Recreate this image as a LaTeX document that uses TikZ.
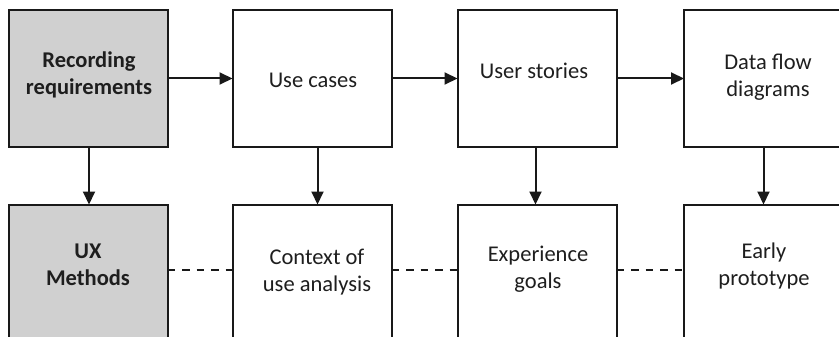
\documentclass[tikz,border=0pt]{standalone}
\usepackage{fontspec}
\setmainfont{Carlito}
\usetikzlibrary{arrows.meta,calc}
\definecolor{boxgray}{RGB}{208,208,208}
\definecolor{ink}{RGB}{25,25,25}
\definecolor{txtc}{RGB}{30,30,30}
\begin{document}
\begin{tikzpicture}[x=1pt,y=-1pt,
  box/.style={draw=ink,line width=2pt,minimum width=159pt,minimum height=136pt,
    inner sep=0pt,outer sep=0pt,anchor=north west},
  graybox/.style={box,fill=boxgray},
  txt/.style={align=center,text=txtc,inner sep=0pt,font=\fontsize{22.5}{27}\selectfont},
  arr/.style={draw=ink,line width=2pt,-{Triangle[length=13pt,width=12pt]}},
  dsh/.style={draw=ink,line width=2pt,dash pattern=on 7.5pt off 7pt}]
\useasboundingbox (0,0) rectangle (839,337);
\fill[white] (0,0) rectangle (839,337);
\begin{scope}
\clip (0,0) rectangle (839,337);
% top row
\node[graybox] (u1) at (8.5,10.5) {};
\node[box] (u2) at (232.5,10.5) {};
\node[box] (u3) at (457.5,10.5) {};
\node[box] (u4) at (684,10.5) {};
% bottom row
\node[graybox] (d1) at (8.5,204.5) {};
\node[box] (d2) at (232.5,204.5) {};
\node[box] (d3) at (457.5,204.5) {};
\node[box] (d4) at (684,204.5) {};
\end{scope}
% texts
\node[txt] (t1) at (89,75) {\textbf{Recording}\\\textbf{requirements}};
\node[txt] (t2) at (313,80) {Use cases};
\node[txt] (t3) at (534,71) {User stories};
\node[txt] (t4) at (768,77) {Data flow\\diagrams};
\node[txt] (b1) at (88,265) {\textbf{UX}\\\textbf{Methods}};
\node[txt] (b2) at (317,272) {Context of\\use analysis};
\node[txt] (b3) at (538,269) {Experience\\goals};
\node[txt] (b4) at (764,266) {Early\\prototype};
% horizontal arrows
\draw[arr] (u1.east) -- (u2.west);
\draw[arr] (u2.east) -- (u3.west);
\draw[arr] (u3.east) -- (u4.west);
% vertical arrows
\draw[arr] ([xshift=1pt]u1.south) -- ([xshift=1pt]d1.north);
\draw[arr] ([xshift=5.5pt]u2.south) -- ([xshift=5.5pt]d2.north);
\draw[arr] ([xshift=-1.5pt]u3.south) -- ([xshift=-1.5pt]d3.north);
\draw[arr] ([xshift=0pt]u4.south) -- ([xshift=0pt]d4.north);
% dashed links
\draw[dsh] ([yshift=3pt]d1.east) -- ([yshift=3pt]d2.west);
\draw[dsh] ([yshift=3pt]d2.east) -- ([yshift=3pt]d3.west);
\draw[dsh] ([yshift=3pt]d3.east) -- ([yshift=3pt]d4.west);
\end{tikzpicture}
\end{document}
